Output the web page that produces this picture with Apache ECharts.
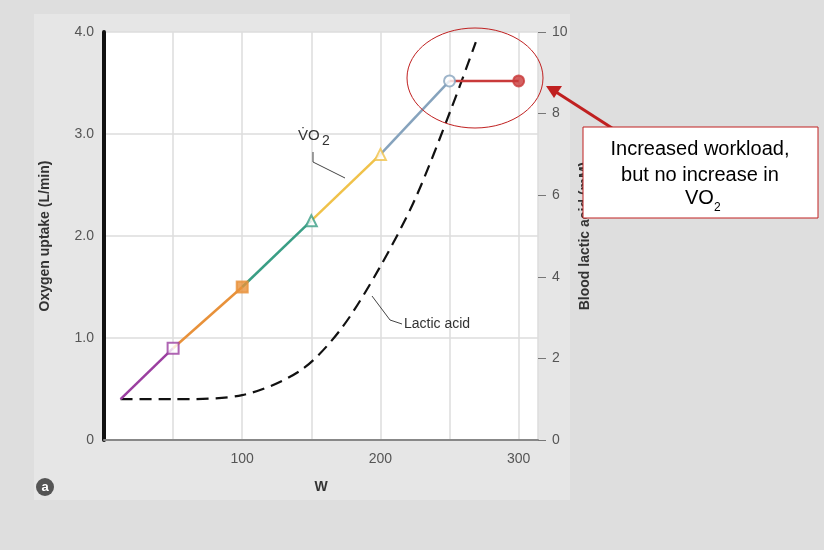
<!DOCTYPE html>
<html>
<head>
<meta charset="utf-8">
<script src="https://cdn.jsdelivr.net/npm/echarts@6/dist/echarts.min.js"></script>
<style>html,body{margin:0;background:#dedede}#chart{width:824px;height:550px}</style>
</head>
<body>
<div id="chart"></div>
<script>
// workload (W) and oxygen uptake (L/min)
var vo2W = [12, 50, 100, 150, 200, 250, 300];
var vo2Values = [0.4, 0.9, 1.5, 2.15, 2.8, 3.52, 3.52];
var segmentColors = ['#9b3fa0', '#e8913a', '#3a9e85', '#f0c24a', '#86a3bd', '#c93a3a'];
var markerSymbols = ['none', 'rect', 'rect', 'triangle', 'triangle', 'circle', 'circle'];
var markerFilled = [false, false, true, false, false, false, true];
var markerColors = ['#9b3fa0', '#9b3fa0', '#e8913a', '#3a9e85', '#f0c24a', '#86a3bd', '#c93a3a'];
// blood lactic acid (mM)
var lacticW = [12, 50, 100, 142, 171, 199, 225, 251, 269];
var lacticValues = [1.0, 1.0, 1.1, 1.7, 2.7, 4.2, 5.9, 8.1, 9.75];
var leftTicks = [0, 1, 2, 3, 4];
var rightTicks = [0, 2, 4, 6, 8, 10];
var xTicks = [100, 200, 300];

var myChart = echarts.init(document.getElementById('chart'));
var series = [];
for (var i = 0; i < vo2W.length - 1; i++) {
    series.push({
        type: 'line', symbol: 'none', yAxisIndex: 0, z: 3,
        lineStyle: { color: segmentColors[i], width: 2.5 },
        data: [[vo2W[i], vo2Values[i]], [vo2W[i + 1], vo2Values[i + 1]]]
    });
}
for (var j = 1; j < vo2W.length; j++) {
    series.push({
        type: 'scatter', yAxisIndex: 0, z: 5, symbol: markerSymbols[j], symbolSize: 11,
        itemStyle: { color: markerFilled[j] ? markerColors[j] : '#fff', borderColor: markerColors[j], borderWidth: 2 },
        data: [[vo2W[j], vo2Values[j]]]
    });
}
series.push({
    type: 'line', yAxisIndex: 1, smooth: 0.3, symbol: 'none', z: 2,
    lineStyle: { color: '#111', width: 2.2, type: [12, 7] },
    data: lacticW.map(function (w, k) { return [w, lacticValues[k]]; })
});

var labelStyle = { color: '#555', fontFamily: 'Arial', fontSize: 14 };
var nameStyle = { fontWeight: 'bold', fontSize: 14, color: '#333', fontFamily: 'Arial' };
myChart.setOption({
    backgroundColor: '#dedede',
    grid: { left: 104, right: 286, top: 32, bottom: 110, show: true, backgroundColor: '#fff', borderWidth: 0 },
    xAxis: {
        type: 'value', min: 0, max: 314, interval: 50,
        name: 'W', nameLocation: 'middle', nameGap: 40, nameTextStyle: nameStyle,
        axisLine: { lineStyle: { color: '#888', width: 2 } },
        axisTick: { show: false },
        axisLabel: Object.assign({ margin: 12, formatter: function (v) { return xTicks.indexOf(v) >= 0 ? v : ''; } }, labelStyle),
        splitLine: { lineStyle: { color: '#ddd', width: 1.5 } }
    },
    yAxis: [{
        type: 'value', min: 0, max: 4, interval: 1, position: 'left',
        name: 'Oxygen uptake (L/min)', nameLocation: 'middle', nameGap: 52, nameRotate: 90, nameTextStyle: nameStyle,
        axisLine: { show: true, lineStyle: { color: '#111', width: 4 } },
        axisTick: { show: false },
        axisLabel: Object.assign({ margin: 10, formatter: function (v) { return leftTicks.indexOf(v) >= 0 ? (v === 0 ? '0' : v.toFixed(1)) : ''; } }, labelStyle),
        splitLine: { lineStyle: { color: '#ddd', width: 1.5 } }
    }, {
        type: 'value', min: 0, max: 10, interval: 2, position: 'right',
        name: 'Blood lactic acid (mM)', nameLocation: 'middle', nameGap: 36, nameRotate: 90, nameTextStyle: nameStyle,
        axisLine: { show: false },
        axisTick: { show: true, length: 8, lineStyle: { color: '#777' } },
        axisLabel: Object.assign({ margin: 14, formatter: function (v) { return rightTicks.indexOf(v) >= 0 ? v : ''; } }, labelStyle),
        splitLine: { show: false }
    }],
    series: series,
    graphic: [
        { type: 'rect', z: -10, shape: { x: 34, y: 14, width: 536, height: 486 }, style: { fill: '#e6e6e6' } },
        { type: 'polyline', z: 10, shape: { points: [[313, 152], [313, 162], [345, 178]] }, style: { stroke: '#444', lineWidth: 1, fill: null } },
        { type: 'text', z: 10, x: 298, y: 128, style: { text: 'V̇O', font: '15px Arial', fill: '#333' } },
        { type: 'text', z: 10, x: 322, y: 134, style: { text: '2', font: '14px Arial', fill: '#333' } },
        { type: 'polyline', z: 10, shape: { points: [[372, 296], [390, 320], [402, 324]] }, style: { stroke: '#444', lineWidth: 1, fill: null } },
        { type: 'text', z: 10, x: 404, y: 317, style: { text: 'Lactic acid', font: '14px Arial', fill: '#333' } },
        { type: 'ellipse', z: 10, shape: { cx: 475, cy: 78, rx: 68, ry: 50 }, style: { stroke: '#c02020', lineWidth: 1, fill: null } },
        { type: 'line', z: 10, shape: { x1: 612, y1: 128, x2: 556, y2: 92 }, style: { stroke: '#c02020', lineWidth: 3 } },
        { type: 'polygon', z: 10, shape: { points: [[546, 86], [562, 86], [554, 98]] }, style: { fill: '#c02020' } },
        { type: 'rect', z: 11, shape: { x: 583, y: 127, width: 235, height: 91 }, style: { fill: '#fff', stroke: '#c02020', lineWidth: 1 } },
        { type: 'text', z: 12, x: 700, y: 136, style: { text: 'Increased workload,\nbut no increase in', font: '20px Arial', fill: '#000', align: 'center', lineHeight: 26 } },
        { type: 'text', z: 12, x: 685, y: 188, style: { text: 'VO', font: '20px Arial', fill: '#000' } },
        { type: 'text', z: 12, x: 714, y: 202, style: { text: '2', font: '12px Arial', fill: '#000' } },
        { type: 'circle', z: 10, shape: { cx: 45, cy: 487, r: 9 }, style: { fill: '#555' } },
        { type: 'text', z: 11, x: 45, y: 487, style: { text: 'a', font: 'bold 13px Arial', fill: '#fff', align: 'center', verticalAlign: 'middle' } }
    ]
});
</script>
</body>
</html>
